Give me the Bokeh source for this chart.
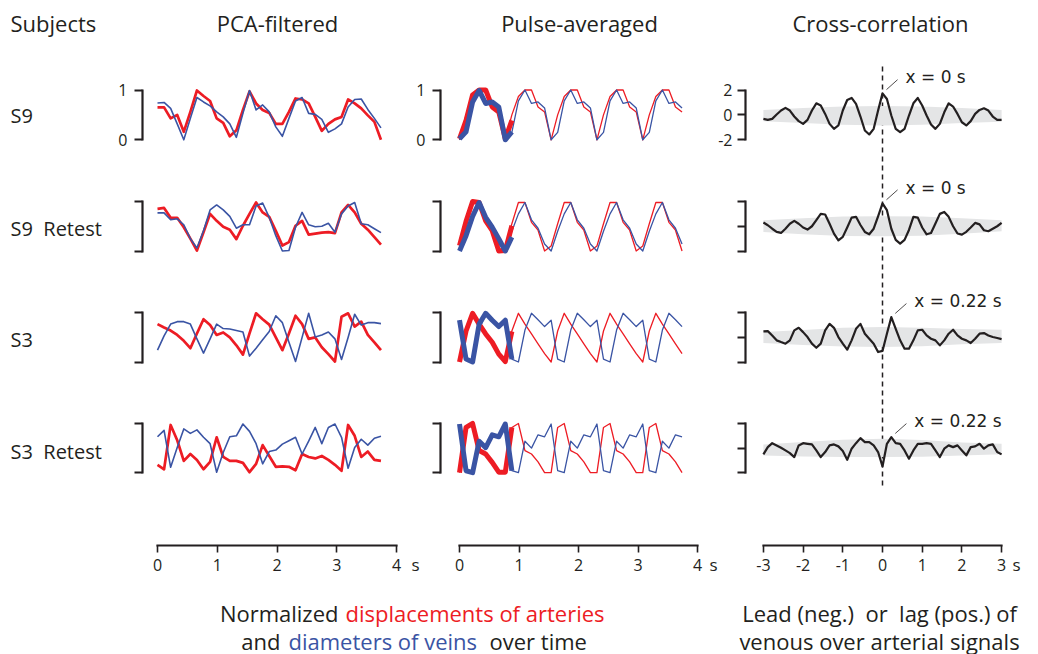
from bokeh.plotting import figure
from bokeh.models import Range1d, LinearAxis, FixedTicker, Label
from bokeh.embed import file_html
from bokeh.resources import INLINE

# ---------------- data ----------------
col_titles = ["Subjects", "PCA-filtered", "Pulse-averaged", "Cross-correlation"]
row_labels = ["S9", "S9\u00a0\u00a0Retest", "S3", "S3\u00a0\u00a0Retest"]
time_ticks = [0, 1, 2, 3, 4]
lag_ticks = [-3, -2, -1, 0, 1, 2, 3]
norm_ticks = [0, 1]
xcorr_ticks = [-2, 0, 2]

# sample instants (s) and lags (s)
time_s = [round(0.11 * i, 2) for i in range(35)]
lag_s = [round((i - 27) / 9, 4) for i in range(55)]

# PCA-filtered, normalized (arteries = red, veins = blue)
pca_art_s9 = [0.65, 0.65, 0.43, 0.5, 0.16, 0.56, 0.99, 0.88, 0.78, 0.43, 0.34, 0.07, 0.19, 0.6, 0.97, 0.73, 0.6, 0.54,
              0.32, 0.32, 0.56, 0.83, 0.81, 0.73, 0.46, 0.18, 0.32, 0.41, 0.46, 0.81, 0.73, 0.63, 0.49, 0.36, 0.0]
pca_vein_s9 = [0.74, 0.75, 0.63, 0.32, 0.0, 0.43, 0.85, 0.76, 0.68, 0.56, 0.46, 0.32, 0.05, 0.53, 0.99, 0.6, 0.7, 0.56,
               0.26, 0.07, 0.43, 0.78, 0.85, 0.53, 0.51, 0.41, 0.15, 0.22, 0.32, 0.66, 0.81, 0.82, 0.61, 0.43, 0.24]
pca_art_s9r = [0.85, 0.87, 0.67, 0.67, 0.48, 0.25, 0.01, 0.38, 0.75, 0.61, 0.49, 0.43, 0.24, 0.51, 0.75, 0.98, 0.78, 0.69,
               0.41, 0.11, 0.18, 0.51, 0.61, 0.33, 0.35, 0.37, 0.38, 0.36, 0.78, 0.93, 0.78, 0.55, 0.43, 0.28, 0.13]
pca_vein_s9r = [0.77, 0.77, 0.63, 0.65, 0.53, 0.25, 0.06, 0.41, 0.83, 0.93, 0.83, 0.7, 0.46, 0.53, 0.53, 0.91, 0.97, 0.68,
                0.31, 0.0, 0.01, 0.48, 0.78, 0.53, 0.49, 0.5, 0.56, 0.38, 0.75, 0.91, 0.98, 0.55, 0.53, 0.45, 0.37]
pca_art_s3 = [0.77, 0.7, 0.64, 0.55, 0.43, 0.28, 0.58, 0.87, 0.75, 0.55, 0.6, 0.5, 0.34, 0.15, 0.58, 0.99, 0.87, 0.76,
              0.5, 0.24, 0.58, 0.94, 0.77, 0.47, 0.5, 0.3, 0.16, 0.01, 0.92, 0.99, 0.72, 0.82, 0.55, 0.4, 0.24]
pca_vein_s3 = [0.24, 0.53, 0.77, 0.82, 0.82, 0.77, 0.47, 0.18, 0.47, 0.77, 0.68, 0.67, 0.64, 0.61, 0.12, 0.28, 0.45, 0.62,
               0.94, 0.8, 0.4, 0.01, 0.5, 0.99, 0.51, 0.55, 0.61, 0.47, 0.05, 0.5, 0.97, 0.75, 0.8, 0.8, 0.78]
pca_art_s3r = [0.16, 0.07, 0.97, 0.66, 0.24, 0.38, 0.26, 0.07, 0.22, 0.72, 0.32, 0.24, 0.24, 0.2, 0.01, 0.18, 0.56, 0.34,
               0.12, 0.13, 0.12, 0.05, 0.38, 0.32, 0.29, 0.34, 0.26, 0.16, 0.04, 0.97, 0.75, 0.32, 0.43, 0.26, 0.24]
pca_vein_s3r = [0.73, 0.86, 0.11, 0.51, 0.89, 0.8, 0.87, 0.72, 0.59, 0.01, 0.41, 0.73, 0.75, 0.99, 0.84, 0.59, 0.18, 0.43,
                0.46, 0.58, 0.65, 0.72, 0.38, 0.64, 0.92, 0.59, 0.92, 0.99, 0.72, 0.09, 0.51, 0.68, 0.56, 0.7, 0.74]

# Pulse-averaged: repeated average pulse (thin) ...
pulse_art_s9 = [0.0, 0.5, 0.87, 1.0, 1.0, 0.66, 0.56, 0.0, 0.5, 0.87, 1.0, 1.0, 0.66, 0.56,
                0.0, 0.5, 0.87, 1.0, 1.0, 0.66, 0.56, 0.0, 0.5, 0.87, 1.0, 1.0, 0.66, 0.56,
                0.0, 0.5, 0.87, 1.0, 1.0, 0.66, 0.56]
pulse_vein_s9 = [0.0, 0.15, 0.78, 1.0, 0.73, 0.76, 0.64, 0.0, 0.15, 0.78, 1.0, 0.73, 0.76, 0.64,
                 0.0, 0.15, 0.78, 1.0, 0.73, 0.76, 0.64, 0.0, 0.15, 0.78, 1.0, 0.73, 0.76, 0.64,
                 0.0, 0.15, 0.78, 1.0, 0.73, 0.76, 0.64]
pulse_art_s9r = [0.1, 0.55, 0.98, 0.98, 0.58, 0.42, 0.0, 0.1, 0.55, 0.98, 0.98, 0.58, 0.42, 0.0,
                 0.1, 0.55, 0.98, 0.98, 0.58, 0.42, 0.0, 0.1, 0.55, 0.98, 0.98, 0.58, 0.42, 0.0,
                 0.1, 0.55, 0.98, 0.98, 0.58, 0.42, 0.0]
pulse_vein_s9r = [0.0, 0.4, 0.75, 0.98, 0.63, 0.46, 0.14, 0.0, 0.4, 0.75, 0.98, 0.63, 0.46, 0.14,
                  0.0, 0.4, 0.75, 0.98, 0.63, 0.46, 0.14, 0.0, 0.4, 0.75, 0.98, 0.63, 0.46, 0.14,
                  0.0, 0.4, 0.75, 0.98, 0.63, 0.46, 0.14]
pulse_art_s3 = [0.0, 0.63, 0.99, 0.77, 0.57, 0.37, 0.17, 0.0, 0.63, 0.99, 0.77, 0.57, 0.37, 0.17,
                0.0, 0.63, 0.99, 0.77, 0.57, 0.37, 0.17, 0.0, 0.63, 0.99, 0.77, 0.57, 0.37, 0.17,
                0.0, 0.63, 0.99, 0.77, 0.57, 0.37, 0.17]
pulse_vein_s3 = [0.85, 0.06, 0.0, 0.65, 0.99, 0.86, 0.72, 0.85, 0.06, 0.0, 0.65, 0.99, 0.86, 0.72,
                 0.85, 0.06, 0.0, 0.65, 0.99, 0.86, 0.72, 0.85, 0.06, 0.0, 0.65, 0.99, 0.86, 0.72,
                 0.85, 0.06, 0.0, 0.65, 0.99, 0.86, 0.72]
pulse_art_s3r = [0.0, 0.92, 1.0, 0.45, 0.38, 0.22, 0.0, 0.0, 0.92, 1.0, 0.45, 0.38, 0.22, 0.0,
                 0.0, 0.92, 1.0, 0.45, 0.38, 0.22, 0.0, 0.0, 0.92, 1.0, 0.45, 0.38, 0.22, 0.0,
                 0.0, 0.92, 1.0, 0.45, 0.38, 0.22, 0.0]
pulse_vein_s3r = [0.99, 0.04, 0.0, 0.64, 0.5, 0.77, 0.73, 0.99, 0.04, 0.0, 0.64, 0.5, 0.77, 0.73,
                  0.99, 0.04, 0.0, 0.64, 0.5, 0.77, 0.73, 0.99, 0.04, 0.0, 0.64, 0.5, 0.77, 0.73,
                  0.99, 0.04, 0.0, 0.64, 0.5, 0.77, 0.73]

# ... and the averaged pulse itself (thick, first 9 samples)
avg_art_s9 = [0.02, 0.39, 0.9, 1.0, 1.0, 0.66, 0.56, 0.02, 0.39]
avg_vein_s9 = [0.02, 0.16, 0.76, 0.99, 0.73, 0.76, 0.66, 0.0, 0.16]
avg_art_s9r = [0.11, 0.6, 1.0, 0.98, 0.61, 0.41, 0.0, 0.01, 0.51]
avg_vein_s9r = [0.0, 0.31, 0.7, 0.98, 0.68, 0.48, 0.25, 0.0, 0.28]
avg_art_s3 = [0.0, 0.63, 0.99, 0.77, 0.57, 0.4, 0.16, 0.01, 0.62]
avg_vein_s3 = [0.85, 0.06, 0.0, 0.77, 0.99, 0.85, 0.72, 0.85, 0.06]
avg_art_s3r = [0.0, 0.92, 1.0, 0.45, 0.38, 0.21, 0.01, 0.01, 0.92]
avg_vein_s3r = [0.99, 0.04, 0.0, 0.64, 0.51, 0.77, 0.73, 0.99, 0.04]

# Cross-correlation (venous vs arterial)
xc_s9 = [-0.32, -0.4, -0.32, 0.03, 0.35, 0.56, 0.35, -0.13, -0.5, -0.72, -0.4, 0.35, 0.93, 0.75, 0.08, -0.72, -1.12,
         -0.85, 0.35, 1.2, 1.36, 0.88, -0.13, -1.25, -1.57, -1.12, 0.35, 1.73, 1.28, -0.05, -1.12, -1.39, -1.12, -0.05,
         0.93, 1.36, 0.75, -0.05, -0.77, -1.12, -0.72, 0.21, 0.93, 0.67, 0.08, -0.59, -0.85, -0.5, 0.08, 0.4, 0.53,
         0.35, -0.13, -0.4, -0.4]
xc_s9r = [0.3, 0.08, -0.2, -0.45, -0.54, -0.2, 0.2, 0.43, 0.2, -0.1, -0.27, 0.0, 0.5, 1.0, 0.95, 0.2, -0.6, -1.14,
          -0.86, -0.1, 0.7, 0.76, 0.1, -0.46, -0.65, -0.2, 0.8, 1.84, 1.3, -0.2, -1.1, -1.4, -1.1, -0.3, 0.76, 0.7,
          -0.1, -0.65, -0.55, 0.22, 1.0, 1.16, 0.76, 0.0, -0.59, -0.68, -0.45, -0.1, 0.27, 0.15, -0.32, -0.4, -0.2,
          0.0, 0.27]
xc_s3 = [0.49, 0.51, 0.16, -0.24, -0.38, -0.51, -0.24, 0.57, 0.78, 0.43, 0.03, -0.51, -0.84, -0.51, 0.57, 1.1, 0.78,
         0.03, -0.51, -1.0, -0.24, 0.7, 1.1, 0.3, -0.11, -0.51, -1.19, -1.1, 0.3, 1.65, 0.7, -0.24, -0.92, -0.92,
         -0.24, 0.57, 0.62, 0.16, -0.11, -0.24, -0.65, -0.24, 0.3, 0.62, 0.16, -0.11, -0.24, -0.46, -0.11, 0.3, 0.35,
         0.16, 0.03, -0.05, -0.14]
xc_s3r = [-0.51, 0.08, 0.4, 0.22, 0.03, -0.19, -0.41, -0.73, 0.22, 0.4, 0.35, 0.3, -0.19, -0.73, -0.32, 0.22, 0.3,
          0.14, -0.24, -0.95, -0.05, 0.4, 0.81, 0.49, 0.49, 0.22, -0.32, -1.49, 0.35, 0.89, 0.4, 0.35, -0.19, -0.86,
          -0.19, 0.35, 0.35, 0.4, 0.35, -0.19, -0.73, -0.05, 0.22, 0.08, 0.22, -0.19, -0.59, 0.08, 0.14, 0.35, -0.05,
          0.22, 0.3, -0.32, -0.51]

# surrogate (chance) band of the cross-correlation
band_lag = [-3, -2, -1, 0, 1, 2, 3]
band_hi_s9 = [0.4, 0.55, 0.68, 0.72, 0.68, 0.55, 0.4]
band_lo_s9 = [-0.5, -0.66, -0.8, -0.85, -0.8, -0.66, -0.55]
band_hi_s9r = [0.49, 0.65, 0.78, 0.81, 0.78, 0.65, 0.49]
band_lo_s9r = [-0.46, -0.65, -0.78, -0.81, -0.76, -0.6, -0.4]
band_hi_s3 = [0.43, 0.6, 0.78, 0.84, 0.78, 0.68, 0.62]
band_lo_s3 = [-0.46, -0.62, -0.74, -0.78, -0.72, -0.55, -0.46]
band_hi_s3r = [0.3, 0.5, 0.68, 0.76, 0.65, 0.45, 0.35]
band_lo_s3r = [-0.6, -0.68, -0.72, -0.73, -0.7, -0.6, -0.51]

# peak lag annotations
peak_lag = [0.0, 0.0, 0.2222, 0.2222]
peak_val = [1.73, 1.84, 1.65, 0.89]
peak_text = ["x = 0 s", "x = 0 s", "x = 0.22 s", "x = 0.22 s"]

pca_art = [pca_art_s9, pca_art_s9r, pca_art_s3, pca_art_s3r]
pca_vein = [pca_vein_s9, pca_vein_s9r, pca_vein_s3, pca_vein_s3r]
pulse_art = [pulse_art_s9, pulse_art_s9r, pulse_art_s3, pulse_art_s3r]
pulse_vein = [pulse_vein_s9, pulse_vein_s9r, pulse_vein_s3, pulse_vein_s3r]
avg_art = [avg_art_s9, avg_art_s9r, avg_art_s3, avg_art_s3r]
avg_vein = [avg_vein_s9, avg_vein_s9r, avg_vein_s3, avg_vein_s3r]
xcorr = [xc_s9, xc_s9r, xc_s3, xc_s3r]
band_hi = [band_hi_s9, band_hi_s9r, band_hi_s3, band_hi_s3r]
band_lo = [band_lo_s9, band_lo_s9r, band_lo_s3, band_lo_s3r]

# ---------------- style / layout ----------------
W, H = 1038, 654
RED = "#ed1c24"
BLUE = "#3a54a4"
INK = "#231f20"
BAND = "#e4e5e6"
FONT = "Open Sans"
ANNOT_FONT = "DejaVu Sans"

COLS = {"pca": (157.0, 59.75), "pulse": (459.0, 59.5), "xc": (882.0, 39.7)}
ROW_TOP = [89.5, 201.0, 312.3, 423.0]
ROW_BOT = [139.3, 250.5, 361.5, 472.2]
BRACKET_X = {"pca": 142.0, "pulse": 440.0, "xc": 745.0}
UNIT_X = {"pca": 411.0, "pulse": 709.0, "xc": 1012.0}
TITLE_Y = 22
ROW_Y = [115, 228, 339, 451]
AXIS_Y = 545

p = figure(width=W, height=H, x_range=Range1d(0, W), y_range=Range1d(H, 0),
           x_axis_location=None, y_axis_location=None, title=None,
           output_backend="svg", toolbar_location=None, min_border=0,
           outline_line_color=None, background_fill_color="white",
           border_fill_color="white")
p.grid.visible = False

p.extra_x_ranges = {name: Range1d((0 - x0) / k, (W - x0) / k) for name, (x0, k) in COLS.items()}


def y_range(top, bot, vmin, vmax):
    s = (vmax - vmin) / (bot - top)
    return Range1d(vmin - (H - bot) * s, vmin + bot * s)


yr = {}
for r in range(4):
    yr[f"n{r}"] = y_range(ROW_TOP[r], ROW_BOT[r], norm_ticks[0], norm_ticks[-1])
    yr[f"c{r}"] = y_range(ROW_TOP[r], ROW_BOT[r], xcorr_ticks[0], xcorr_ticks[-1])
p.extra_y_ranges = yr


def label(x, y, text, size, color=INK, align="left", font=FONT, **kw):
    p.add_layout(Label(x=x, y=y, text=text, text_font=font, text_font_size=size,
                       text_color=color, text_align=align, text_baseline="middle", **kw))


def tick_text(t):
    return "-" + str(abs(t)) if t < 0 else str(t)


# dashed zero-lag line
p.segment(x0=[0], y0=[66], x1=[0], y1=[487], x_range_name="xc",
          line_color=INK, line_width=1.5, line_dash="5 4")

for r in range(4):
    n, c = f"n{r}", f"c{r}"
    # PCA-filtered
    p.line(time_s, pca_art[r], x_range_name="pca", y_range_name=n, line_color=RED,
           line_width=2.7, line_join="round")
    p.line(time_s, pca_vein[r], x_range_name="pca", y_range_name=n, line_color=BLUE,
           line_width=1.6, line_join="round")
    # Pulse-averaged
    p.line(time_s, pulse_art[r], x_range_name="pulse", y_range_name=n, line_color=RED,
           line_width=1.3, line_join="round")
    p.line(time_s, pulse_vein[r], x_range_name="pulse", y_range_name=n, line_color=BLUE,
           line_width=1.3, line_join="round")
    p.line(time_s[:len(avg_art[r])], avg_art[r], x_range_name="pulse", y_range_name=n,
           line_color=RED, line_width=5, line_join="round")
    p.line(time_s[:len(avg_vein[r])], avg_vein[r], x_range_name="pulse", y_range_name=n,
           line_color=BLUE, line_width=5, line_join="round")
    # Cross-correlation
    p.varea(x=band_lag, y1=band_lo[r], y2=band_hi[r], x_range_name="xc", y_range_name=c,
            fill_color=BAND)
    p.line(lag_s, xcorr[r], x_range_name="xc", y_range_name=c, line_color=INK,
           line_width=2.2, line_join="round")
    # peak annotation
    p.segment(x0=[peak_lag[r] + 0.1], y0=[peak_val[r] + 0.3],
              x1=[peak_lag[r] + 0.38], y1=[peak_val[r] + 1.1],
              x_range_name="xc", y_range_name=c, line_color=INK, line_width=0.8)
    label(peak_lag[r] + 0.58, peak_val[r] + 1.28, peak_text[r], "17px", font=ANNOT_FONT,
          x_range_name="xc", y_range_name=c)

    # bracket axes
    for col, rng, ticks in (("pca", n, norm_ticks), ("pulse", n, norm_ticks), ("xc", c, xcorr_ticks)):
        ax = LinearAxis(y_range_name=rng, fixed_location=BRACKET_X[col],
                        bounds=(ticks[0], ticks[-1]),
                        ticker=FixedTicker(ticks=ticks, minor_ticks=[]),
                        axis_line_color=INK, axis_line_width=2.2, axis_line_cap="square",
                        major_tick_line_color=INK, major_tick_line_width=2.2,
                        major_tick_out=8, major_tick_in=0, minor_tick_line_color=None,
                        major_label_text_font=FONT, major_label_text_font_size="16px",
                        major_label_text_color=INK,
                        major_label_standoff=5 if col == "xc" else 7)
        if r > 0:
            ax.major_label_overrides = {t: "" for t in ticks}
        else:
            ax.major_label_overrides = {t: tick_text(t) for t in ticks}
        p.add_layout(ax, "left")

# bottom time / lag axes
for col, ticks in (("pca", time_ticks), ("pulse", time_ticks), ("xc", lag_ticks)):
    ax = LinearAxis(x_range_name=col, fixed_location=AXIS_Y,
                    bounds=(ticks[0], ticks[-1]),
                    ticker=FixedTicker(ticks=ticks, minor_ticks=[]),
                    axis_line_color=INK, axis_line_width=2.2, axis_line_cap="square",
                    major_tick_line_color=INK, major_tick_line_width=1.6,
                    major_tick_out=7, major_tick_in=0, minor_tick_line_color=None,
                    major_label_text_font=FONT, major_label_text_font_size="16px",
                    major_label_text_color=INK, major_label_standoff=6,
                    major_label_overrides={t: tick_text(t) for t in ticks})
    p.add_layout(ax, "below")
    label(UNIT_X[col], 564, "s", "17px")

# titles and row labels
label(10, TITLE_Y, col_titles[0], "22px")
label(277, TITLE_Y, col_titles[1], "22px", align="center")
label(579, TITLE_Y, col_titles[2], "22px", align="center")
label(880, TITLE_Y, col_titles[3], "22px", align="center")
for r in range(4):
    label(10, ROW_Y[r], row_labels[r], "20px")

# captions
label(338, 612, "Normalized", "22px", align="right")
label(345, 612, "displacements of arteries", "22px", color=RED)
label(280, 640, "and", "22px", align="right")
label(288, 640, "diameters of veins", "22px", color=BLUE)
label(489, 640, "over time", "22px")
label(879, 612, "Lead (neg.)\u00a0\u00a0or\u00a0\u00a0lag (pos.) of", "22px", align="center")
label(879, 640, "venous over arterial signals", "22px", align="center")

open("out.html", "w").write(file_html(p, INLINE))
